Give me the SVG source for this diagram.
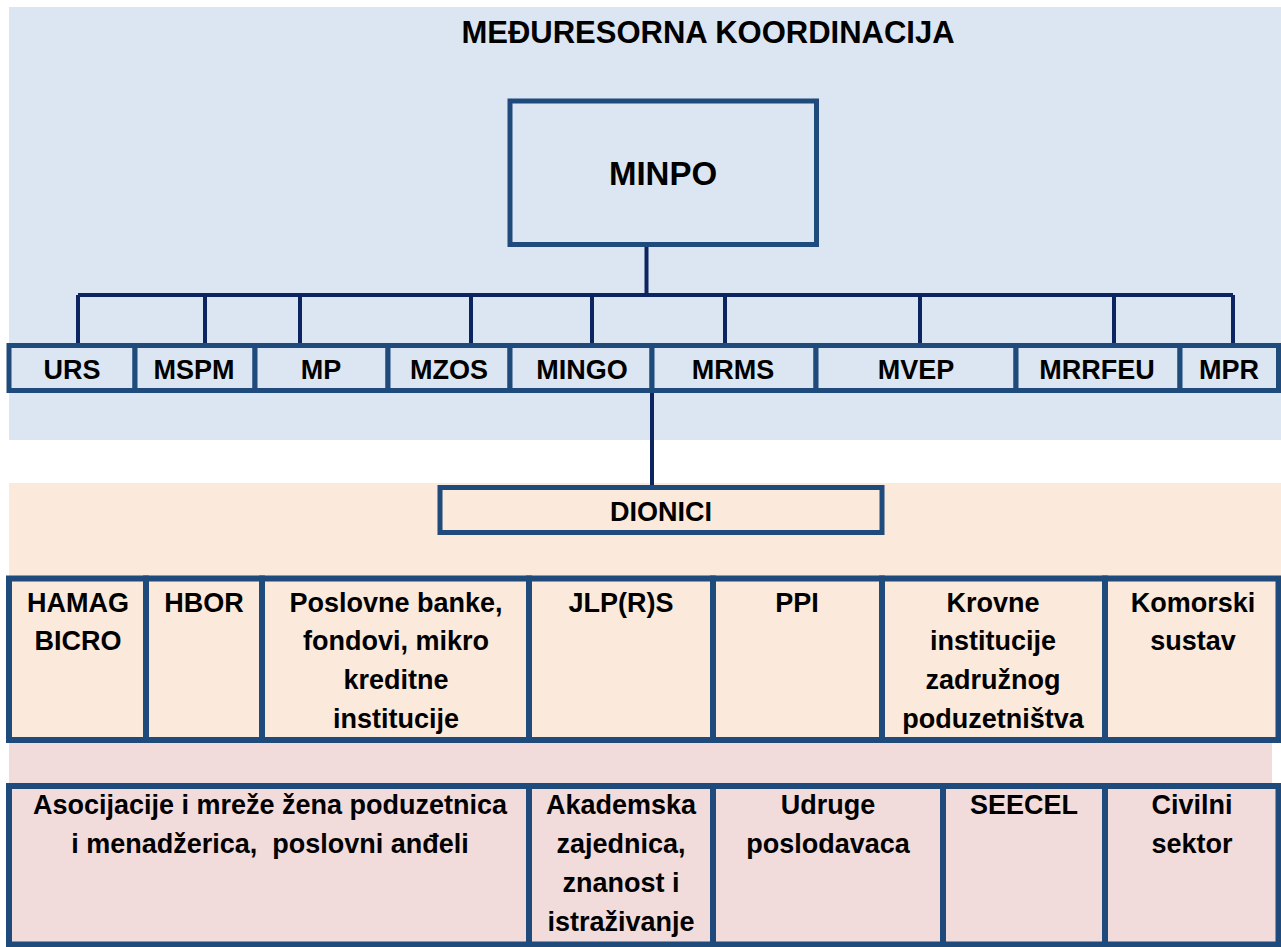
<svg xmlns="http://www.w3.org/2000/svg" width="1281" height="947" viewBox="0 0 1281 947">
<style>
text{font-family:"Liberation Sans",Arial,sans-serif;font-weight:bold;fill:#000;text-anchor:middle}
.t{font-size:27px}
.box{stroke:#1f4a7c;stroke-width:5}
.b2{stroke:#1f4a7c;stroke-width:6}
.conn{stroke:#0c2560;stroke-width:4;fill:none}
.blue{fill:#dce6f2}.peach{fill:#fbe9db}.pink{fill:#f2dcdb}
</style>
<g id="backgrounds">
<rect x="9" y="7" width="1272" height="433" class="blue"/>
<rect x="9" y="483" width="1272" height="260" class="peach"/>
<rect x="9" y="743" width="1263" height="204" class="pink"/>
</g>
<text id="title" x="708" y="43" style="font-size:31px">MEĐURESORNA KOORDINACIJA</text>
<g id="connectors" class="conn">
<path d="M646.5 247V295M78 295H1233M78 295V345M205 295V345M300 295V345M471 295V345M592 295V345M725 295V345M920 295V345M1114 295V345M1233 295V345"/>
<path d="M652 391V487"/>
</g>
<g id="MINPO"><rect x="510" y="101" width="306.5" height="143.5" class="box blue"/><text x="663" y="185" style="font-size:33px">MINPO</text></g>
<g id="URS"><rect x="9" y="345.5" width="126" height="45" class="box blue"/><text class="t" x="72" y="379">URS</text></g>
<g id="MSPM"><rect x="135" y="345.5" width="120" height="45" class="box blue"/><text class="t" x="194" y="379">MSPM</text></g>
<g id="MP"><rect x="255" y="345.5" width="133" height="45" class="box blue"/><text class="t" x="321" y="379">MP</text></g>
<g id="MZOS"><rect x="388" y="345.5" width="122" height="45" class="box blue"/><text class="t" x="449" y="379">MZOS</text></g>
<g id="MINGO"><rect x="510" y="345.5" width="142" height="45" class="box blue"/><text class="t" x="582" y="379">MINGO</text></g>
<g id="MRMS"><rect x="652" y="345.5" width="164" height="45" class="box blue"/><text class="t" x="733" y="379">MRMS</text></g>
<g id="MVEP"><rect x="816" y="345.5" width="200" height="45" class="box blue"/><text class="t" x="916" y="379">MVEP</text></g>
<g id="MRRFEU"><rect x="1016" y="345.5" width="164" height="45" class="box blue"/><text class="t" x="1097" y="379">MRRFEU</text></g>
<g id="MPR"><rect x="1180" y="345.5" width="98.5" height="45" class="box blue"/><text class="t" x="1229" y="379">MPR</text></g>
<g id="DIONICI"><rect x="440" y="487.5" width="442" height="45" class="box peach"/><text class="t" x="661" y="521">DIONICI</text></g>
<g id="HAMAG"><rect x="9" y="578.5" width="137" height="161.5" class="b2 peach"/><text class="t" x="78" y="612">HAMAG</text><text class="t" x="78" y="650">BICRO</text></g>
<g id="HBOR"><rect x="146" y="578.5" width="116" height="161.5" class="b2 peach"/><text class="t" x="204" y="612">HBOR</text></g>
<g id="banke"><rect x="262" y="578.5" width="267" height="161.5" class="b2 peach"/><text class="t" x="396" y="612">Poslovne banke,</text><text class="t" x="396" y="650">fondovi, mikro</text><text class="t" x="396" y="689">kreditne</text><text class="t" x="396" y="728">institucije</text></g>
<g id="JLPRS"><rect x="529" y="578.5" width="184" height="161.5" class="b2 peach"/><text class="t" x="621" y="612">JLP(R)S</text></g>
<g id="PPI"><rect x="713" y="578.5" width="169" height="161.5" class="b2 peach"/><text class="t" x="797" y="612">PPI</text></g>
<g id="krovne"><rect x="882" y="578.5" width="223" height="161.5" class="b2 peach"/><text class="t" x="993" y="612">Krovne</text><text class="t" x="993" y="650">institucije</text><text class="t" x="993" y="689">zadružnog</text><text class="t" x="993" y="728">poduzetništva</text></g>
<g id="komorski"><rect x="1105" y="578.5" width="173.5" height="161.5" class="b2 peach"/><text class="t" x="1193" y="612">Komorski</text><text class="t" x="1193" y="650">sustav</text></g>
<g id="asocijacije"><rect x="9" y="786" width="520" height="158.5" class="b2 pink"/><text class="t" x="270" y="814">Asocijacije i mreže žena poduzetnica</text><text class="t" x="270" y="853" xml:space="preserve">i menadžerica,  poslovni anđeli</text></g>
<g id="akademska"><rect x="529" y="786" width="184" height="158.5" class="b2 pink"/><text class="t" x="621" y="814">Akademska</text><text class="t" x="621" y="853">zajednica,</text><text class="t" x="621" y="892">znanost i</text><text class="t" x="621" y="931">istraživanje</text></g>
<g id="udruge"><rect x="713" y="786" width="230" height="158.5" class="b2 pink"/><text class="t" x="828" y="814">Udruge</text><text class="t" x="828" y="853">poslodavaca</text></g>
<g id="SEECEL"><rect x="943" y="786" width="162" height="158.5" class="b2 pink"/><text class="t" x="1024" y="814">SEECEL</text></g>
<g id="civilni"><rect x="1105" y="786" width="173.5" height="158.5" class="b2 pink"/><text class="t" x="1192" y="814">Civilni</text><text class="t" x="1192" y="853">sektor</text></g>
</svg>
